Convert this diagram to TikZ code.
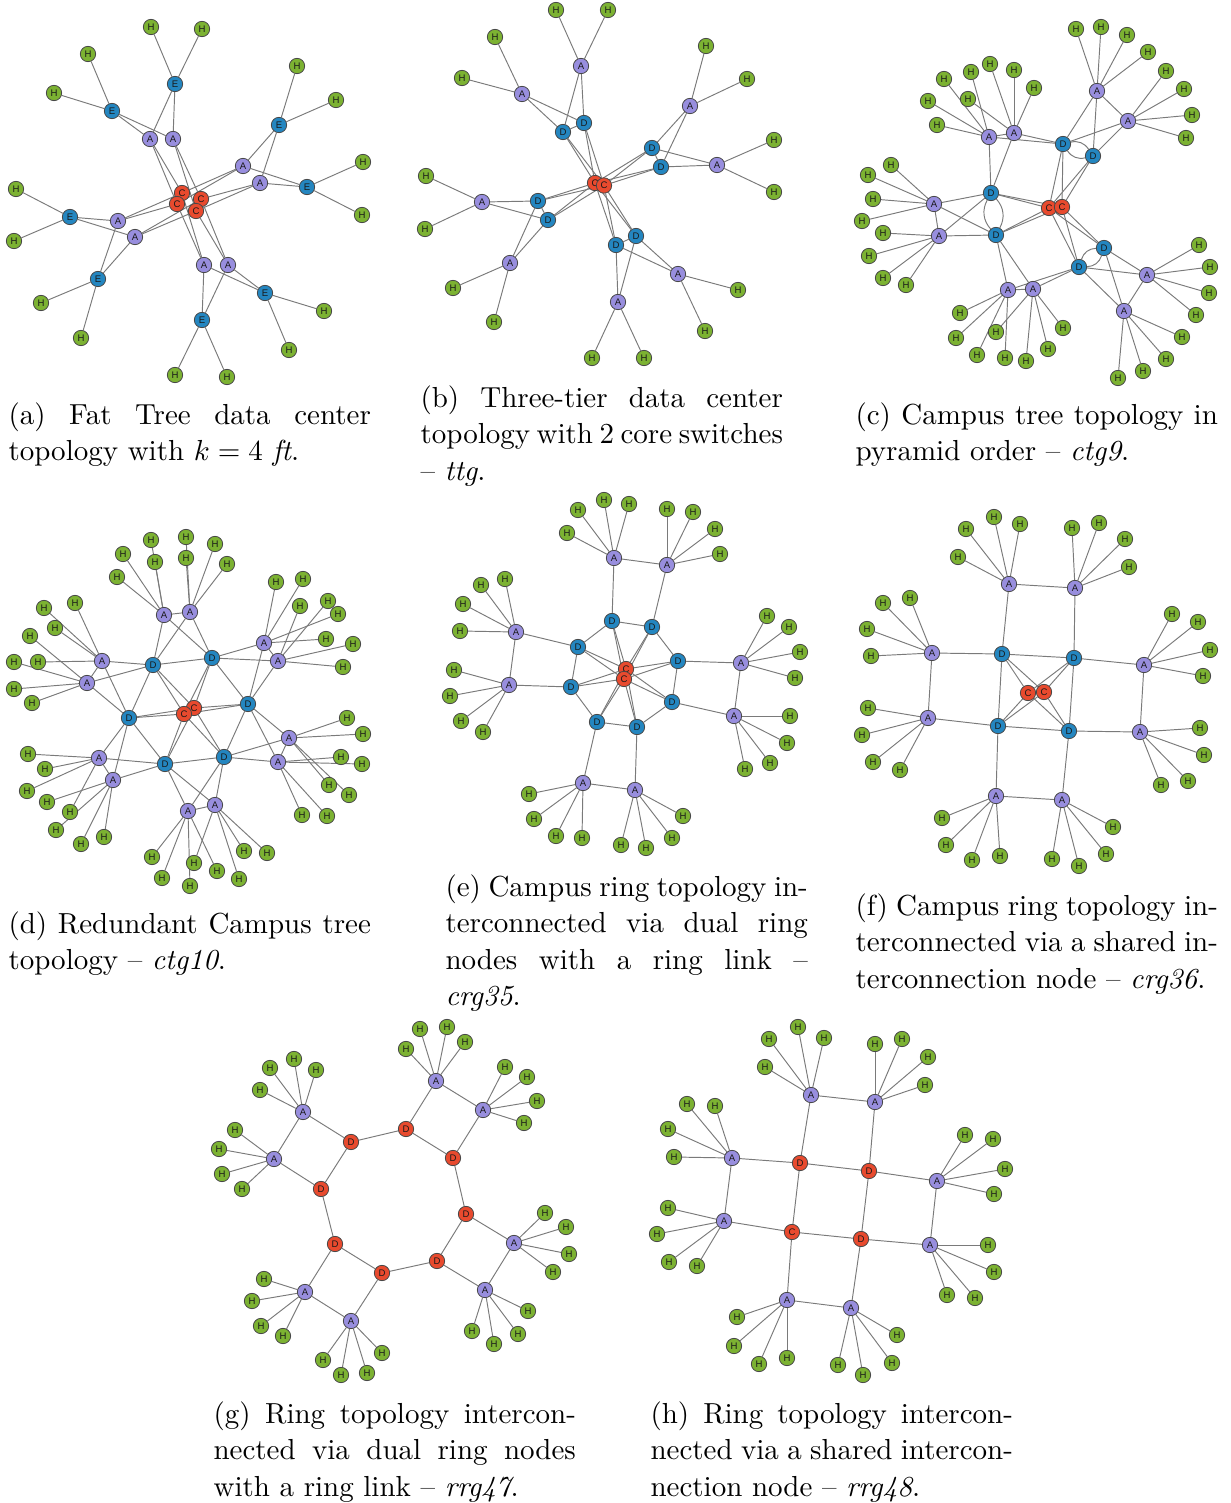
\documentclass[tikz,border=0pt]{standalone}
\usepackage{fontspec}
\newfontfamily\lblfont{Liberation Sans}
\definecolor{hostgreen}{RGB}{124,178,50}
\definecolor{accpurple}{RGB}{152,142,222}
\definecolor{distblue}{RGB}{36,134,192}
\definecolor{corered}{RGB}{232,74,46}
\pgfdeclarelayer{edges}
\pgfsetlayers{edges,main}
\tikzset{
  sw/.style={circle, draw=black!72, line width=0.27pt, minimum size=5.3pt, inner sep=0pt,
    font=\lblfont\fontsize{3.3}{3.5}\selectfont, text=black!90},
  hn/.style={sw, fill=hostgreen},
  an/.style={sw, fill=accpurple},
  dn/.style={sw, fill=distblue},
  cn/.style={sw, fill=corered},
  ed/.style={draw=black!52, line width=0.33pt},
  captext/.style={anchor=base west, inner sep=0pt, text width=125pt, align=justify,
    font=\fontsize{10}{12.6}\selectfont},
}
% every link is collected here and drawn once, under the nodes
\gdef\alledges{}
\newcommand\addedge[2]{%
  \ifx\alledges\empty\xdef\alledges{#1/#2}\else\xdef\alledges{\alledges,#1/#2}\fi}
% hosts hanging off one switch: parent, name prefix, list of x/y
\newcommand\hosts[3]{%
  \foreach \hx/\hy [count=\hi] in {#3}{%
    \node[hn] (#2-\hi) at (\hx,\hy) {H};
    \addedge{#1}{#2-\hi}%
  }}
% links between named switches
\newcommand\links[1]{\foreach \pa/\pb in {#1}{\addedge{\pa}{\pb}}}
\begin{document}
\begin{tikzpicture}[x=0.345pt,y=-0.345pt]
\useasboundingbox (0,0) rectangle (1231,1503);

%% (a) fat tree, k = 4
\foreach \n/\x/\y in {c1/182/193, c2/201/199, c3/177/204, c4/196/211}
  \node[cn] (a-\n) at (\x,\y) {C};
\foreach \n/\x/\y in {a1/150/139, a2/173/139, a3/243/166, a4/260/183, a5/118/221, a6/135/237, a7/204/265, a8/228/265}
  \node[an] (a-\n) at (\x,\y) {A};
\foreach \n/\x/\y in {e1/175/84, e2/112/111, e3/279/125, e4/307/187, e5/70/217, e6/98/279, e7/265/293, e8/202/320}
  \node[dn] (a-\n) at (\x,\y) {E};
\hosts{a-e1}{a-e1h}{151/27, 202/29}
\hosts{a-e2}{a-e2h}{88/54, 54/93}
\hosts{a-e3}{a-e3h}{297/66, 336/100}
\hosts{a-e4}{a-e4h}{363/162, 362/215}
\hosts{a-e5}{a-e5h}{16/189, 14/241}
\hosts{a-e6}{a-e6h}{41/303, 81/338}
\hosts{a-e7}{a-e7h}{324/311, 289/350}
\hosts{a-e8}{a-e8h}{175/375, 227/377}
\links{a-e1/a-a1, a-e1/a-a2, a-e2/a-a1, a-e2/a-a2, a-e3/a-a3, a-e3/a-a4, a-e4/a-a3, a-e4/a-a4,
  a-e5/a-a5, a-e5/a-a6, a-e6/a-a5, a-e6/a-a6, a-e7/a-a7, a-e7/a-a8, a-e8/a-a7, a-e8/a-a8,
  a-a1/a-c1, a-a1/a-c3, a-a2/a-c2, a-a2/a-c4, a-a3/a-c1, a-a3/a-c3, a-a4/a-c2, a-a4/a-c4,
  a-a5/a-c1, a-a5/a-c3, a-a6/a-c2, a-a6/a-c4, a-a7/a-c1, a-a7/a-c3, a-a8/a-c2, a-a8/a-c4}
\node[captext] (capa) at (8,424) {(a) Fat Tree data center topology with $k = 4$ \textit{ft}.};

%% (b) three-tier
\foreach \n/\x/\y in {c1/595/183, c2/604/185.5}
  \node[cn] (b-\n) at (\x,\y) {C};
\foreach \n/\x/\y in {a1/581/66, a2/522/94, a3/690/106, a4/717/165, a5/482/202, a6/510/263, a7/678/274, a8/618/302}
  \node[an] (b-\n) at (\x,\y) {A};
\foreach \n/\x/\y in {d1/563/132, d2/584/123, d3/652/148, d4/661/167, d5/538/201, d6/548/220, d7/616/245, d8/636/236}
  \node[dn] (b-\n) at (\x,\y) {D};
\hosts{b-a1}{b-a1h}{556/10, 608/10}
\hosts{b-a2}{b-a2h}{495/37, 462/78}
\hosts{b-a3}{b-a3h}{706/46, 747/79}
\hosts{b-a4}{b-a4h}{774/140, 774/192}
\hosts{b-a5}{b-a5h}{426/176, 425/229}
\hosts{b-a6}{b-a6h}{453/288, 494/322}
\hosts{b-a7}{b-a7h}{738/290, 705/331}
\hosts{b-a8}{b-a8h}{592/358, 644/358}
\links{b-a1/b-d1, b-a1/b-d2, b-a2/b-d1, b-a2/b-d2, b-d1/b-d2,
  b-a3/b-d3, b-a3/b-d4, b-a4/b-d3, b-a4/b-d4, b-d3/b-d4,
  b-a5/b-d5, b-a5/b-d6, b-a6/b-d5, b-a6/b-d6, b-d5/b-d6,
  b-a7/b-d7, b-a7/b-d8, b-a8/b-d7, b-a8/b-d8, b-d7/b-d8,
  b-d1/b-c1, b-d1/b-c2, b-d2/b-c1, b-d2/b-c2, b-d3/b-c1, b-d3/b-c2, b-d4/b-c1, b-d4/b-c2,
  b-d5/b-c1, b-d5/b-c2, b-d6/b-c1, b-d6/b-c2, b-d7/b-c1, b-d7/b-c2, b-d8/b-c1, b-d8/b-c2, b-c1/b-c2}
\node[captext] (capb) at (420,407) {(b) Three-tier data center topology with 2 core switches -- \textit{ttg}.};

%% (c) campus tree, pyramid order
\foreach \n/\x/\y in {c1/1049/208, c2/1062/207}
  \node[cn] (c-\n) at (\x,\y) {C};
\foreach \n/\x/\y in {d1/1063/144, d2/1093/156, d3/991/193, d4/996/235, d5/1104/248, d6/1079/267}
  \node[dn] (c-\n) at (\x,\y) {D};
\foreach \n/\x/\y in {a1/989/137, a2/1014/133, a3/1097/91, a4/1128/121, a5/934/204, a6/939/236, a7/1008/290, a8/1033/289, a9/1147/275, a10/1124/311}
  \node[an] (c-\n) at (\x,\y) {A};
\hosts{c-a1}{c-a1h}{937/125, 928/101, 944/79, 971/72}
\hosts{c-a2}{c-a2h}{968/99, 990/64, 1014/70, 1034/88}
\hosts{c-a3}{c-a3h}{1076/29, 1101/27, 1127/35, 1148/52}
\hosts{c-a4}{c-a4h}{1166/71, 1184/89, 1192/115, 1186/138}
\hosts{c-a5}{c-a5h}{891/165, 868/175, 873/199, 862/221}
\hosts{c-a6}{c-a6h}{883/233, 869/256, 883/278, 906/285}
\hosts{c-a7}{c-a7h}{960/313, 956/338, 977/355, 1005/358}
\hosts{c-a8}{c-a8h}{996/332, 1026/361, 1048/349, 1063/328}
\hosts{c-a9}{c-a9h}{1199/245, 1210/267, 1209/293, 1196/315}
\hosts{c-a10}{c-a10h}{1182/337, 1166/359, 1143/371, 1118/378}
\links{c-a1/c-a2, c-a3/c-a4, c-a5/c-a6, c-a7/c-a8, c-a9/c-a10,
  c-d1/c-a1, c-d1/c-a2, c-d1/c-a3, c-d1/c-a4, c-d2/c-a3, c-d2/c-a4,
  c-d3/c-a1, c-d3/c-a2, c-d3/c-a5, c-d3/c-a6, c-d4/c-a5, c-d4/c-a6, c-d4/c-a7, c-d4/c-a8,
  c-d5/c-a9, c-d5/c-a10, c-d6/c-a7, c-d6/c-a8, c-d6/c-a9, c-d6/c-a10,
  c-d1/c-c1, c-d1/c-c2, c-d2/c-c1, c-d2/c-c2, c-d3/c-c1, c-d3/c-c2,
  c-d4/c-c1, c-d4/c-c2, c-d5/c-c1, c-d5/c-c2, c-d6/c-c1, c-d6/c-c2, c-c1/c-c2}
\node[captext] (capc) at (855,424) {(c) Campus tree topology in pyramid order -- \textit{ctg9}.};

%% (d) redundant campus tree
\foreach \n/\x/\y in {c2/194/708, c1/184/714}
  \node[cn] (d-\n) at (\x,\y) {C};
\foreach \n/\x/\y in {d1/153/665, d2/212/658, d3/129/718, d4/248/704, d5/165/764, d6/224/757}
  \node[dn] (d-\n) at (\x,\y) {D};
\foreach \n/\x/\y in {a1/164/615, a2/190/612, a3/102/661, a4/87/683, a5/264/643, a6/278/661,
  a7/289/738, a8/278/762, a9/99/758, a10/113/780, a11/188/811, a12/215/805}
  \node[an] (d-\n) at (\x,\y) {A};
\hosts{d-a1}{d-a1h}{117/577, 123/554, 151/540, 155/562}
\hosts{d-a2}{d-a2h}{186/558, 186/537, 215/544, 227/564}
\hosts{d-a3}{d-a3h}{44/608, 75/603, 55/628, 38/662}
\hosts{d-a4}{d-a4h}{30/636, 14/662, 14/689, 32/703}
\hosts{d-a5}{d-a5h}{276/582, 303/579, 338/614, 326/639}
\hosts{d-a6}{d-a6h}{300/606, 328/601, 353/644, 343/667}
\hosts{d-a7}{d-a7h}{347/718, 363/734, 329/785, 349/795}
\hosts{d-a8}{d-a8h}{341/757, 362/764, 302/815, 327/816}
\hosts{d-a9}{d-a9h}{28/754, 45/769, 27/791, 70/812}
\hosts{d-a10}{d-a10h}{47/802, 56/830, 81/844, 104/837}
\hosts{d-a11}{d-a11h}{152/857, 162/878, 190/886, 217/871}
\hosts{d-a12}{d-a12h}{194/863, 239/879, 244/851, 267/853}
\links{d-a1/d-a2, d-a3/d-a4, d-a5/d-a6, d-a7/d-a8, d-a9/d-a10, d-a11/d-a12,
  d-d1/d-d2, d-d2/d-d4, d-d4/d-d6, d-d6/d-d5, d-d5/d-d3, d-d3/d-d1,
  d-a1/d-d1, d-a1/d-d2, d-a2/d-d1, d-a2/d-d2, d-a3/d-d1, d-a3/d-d3, d-a4/d-d1, d-a4/d-d3,
  d-a5/d-d2, d-a5/d-d4, d-a6/d-d2, d-a6/d-d4, d-a7/d-d4, d-a7/d-d6, d-a8/d-d4, d-a8/d-d6,
  d-a9/d-d3, d-a9/d-d5, d-a10/d-d3, d-a10/d-d5, d-a11/d-d5, d-a11/d-d6, d-a12/d-d5, d-a12/d-d6,
  d-d1/d-c1, d-d1/d-c2, d-d2/d-c1, d-d2/d-c2, d-d3/d-c1, d-d3/d-c2,
  d-d4/d-c1, d-d4/d-c2, d-d5/d-c1, d-d5/d-c2, d-d6/d-c1, d-d6/d-c2, d-c1/d-c2}
\node[captext] (capd) at (8,933) {(d) Redundant Campus tree topology -- \textit{ctg10}.};

%% (e) campus ring, dual ring nodes
\foreach \n/\x/\y in {c1/626/669, c2/624/679}
  \node[cn] (e-\n) at (\x,\y) {C};
\foreach \n/\x/\y in {d1/612/621, d2/652/627, d3/578/647, d4/678/661, d5/571/687, d6/672/702, d7/597/722, d8/637/727}
  \node[dn] (e-\n) at (\x,\y) {D};
\foreach \n/\x/\y in {a1/614/558, a2/667/565, a3/516/632, a4/509/685, a5/741/663, a6/734/716, a7/583/783, a8/635/790}
  \node[an] (e-\n) at (\x,\y) {A};
\hosts{e-a1}{e-a1h}{567/533, 578/510, 604/500, 629/504}
\hosts{e-a2}{e-a2h}{667/509, 693/512, 715/529, 720/554}
\hosts{e-a3}{e-a3h}{481/585, 505/579, 463/604, 460/631}
\hosts{e-a4}{e-a4h}{454/670, 450/696, 461/721, 483/732}
\hosts{e-a5}{e-a5h}{767/616, 789/627, 800/652, 795/678}
\hosts{e-a6}{e-a6h}{790/716, 787/743, 770/763, 745/769}
\hosts{e-a7}{e-a7h}{529/794, 534/819, 556/836, 582/838}
\hosts{e-a8}{e-a8h}{621/845, 646/848, 672/838, 683/816}
\links{e-a1/e-a2, e-a3/e-a4, e-a5/e-a6, e-a7/e-a8,
  e-d1/e-d2, e-d2/e-d4, e-d4/e-d6, e-d6/e-d8, e-d8/e-d7, e-d7/e-d5, e-d5/e-d3, e-d3/e-d1,
  e-a1/e-d1, e-a2/e-d2, e-a3/e-d3, e-a4/e-d5, e-a5/e-d4, e-a6/e-d6, e-a7/e-d7, e-a8/e-d8,
  e-d1/e-c1, e-d1/e-c2, e-d2/e-c1, e-d2/e-c2, e-d3/e-c1, e-d3/e-c2, e-d4/e-c1, e-d4/e-c2,
  e-d5/e-c1, e-d5/e-c2, e-d6/e-c1, e-d6/e-c2, e-d7/e-c1, e-d7/e-c2, e-d8/e-c1, e-d8/e-c2, e-c1/e-c2}
\node[captext] (cape) at (445,896) {(e) Campus ring topology interconnected via dual ring nodes with a ring link -- \textit{crg35}.};

%% (f) campus ring, shared interconnection node
\foreach \n/\x/\y in {c1/1028/693, c2/1044/692}
  \node[cn] (f-\n) at (\x,\y) {C};
\foreach \n/\x/\y in {d1/1002/654, d2/1074/658, d3/998/726, d4/1069/731}
  \node[dn] (f-\n) at (\x,\y) {D};
\foreach \n/\x/\y in {a1/1009/584, a2/1075/588, a3/932/653, a4/928/718, a5/1144/665, a6/1140/732, a7/996/796, a8/1062/800}
  \node[an] (f-\n) at (\x,\y) {A};
\hosts{f-a1}{f-a1h}{958/557, 966/529, 994/517, 1020/524}
\hosts{f-a2}{f-a2h}{1072/528, 1099/523, 1125/539, 1129/567}
\hosts{f-a3}{f-a3h}{883/603, 910/598, 867/629, 871/656}
\hosts{f-a4}{f-a4h}{868/708, 862/735, 873/762, 900/770}
\hosts{f-a5}{f-a5h}{1172/614, 1198/622, 1210/650, 1203/676}
\hosts{f-a6}{f-a6h}{1200/728, 1204/755, 1188/781, 1161/785}
\hosts{f-a7}{f-a7h}{942/818, 946/845, 972/860, 1000/856}
\hosts{f-a8}{f-a8h}{1052/859, 1079/866, 1106/854, 1113/827}
\links{f-a1/f-a2, f-a3/f-a4, f-a5/f-a6, f-a7/f-a8,
  f-d1/f-d2, f-d2/f-d4, f-d4/f-d3, f-d3/f-d1,
  f-a1/f-d1, f-a2/f-d2, f-a3/f-d1, f-a4/f-d3, f-a5/f-d2, f-a6/f-d4, f-a7/f-d3, f-a8/f-d4,
  f-d1/f-c1, f-d1/f-c2, f-d2/f-c1, f-d2/f-c2, f-d3/f-c1, f-d3/f-c2, f-d4/f-c1, f-d4/f-c2, f-c1/f-c2}
\node[captext] (capf) at (855,915) {(f) Campus ring topology interconnected via a shared interconnection node -- \textit{crg36}.};

%% (g) ring, dual ring nodes
\foreach \n/\x/\y in {d1/351/1142, d2/406/1129, d3/453/1158, d4/321/1189, d5/466/1214, d6/335/1244, d7/382/1273, d8/437/1261}
  \node[cn] (g-\n) at (\x,\y) {D};
\foreach \n/\x/\y in {a1/303/1112, a2/274/1159, a3/436/1081, a4/483/1110, a5/514/1243, a6/485/1290, a7/305/1292, a8/351/1321}
  \node[an] (g-\n) at (\x,\y) {A};
\hosts{g-a1}{g-a1h}{260/1090, 270/1068, 294/1059, 316/1070}
\hosts{g-a2}{g-a2h}{235/1130, 219/1149, 222/1174, 242/1189}
\hosts{g-a3}{g-a3h}{406/1049, 420/1029, 447/1027, 465/1042}
\hosts{g-a4}{g-a4h}{505/1067, 527/1077, 537/1101, 524/1123}
\hosts{g-a5}{g-a5h}{545/1213, 566/1227, 569/1254, 553/1272}
\hosts{g-a6}{g-a6h}{528/1311, 518/1334, 494/1344, 472/1331}
\hosts{g-a7}{g-a7h}{264/1279, 252/1301, 261/1326, 283/1336}
\hosts{g-a8}{g-a8h}{323/1360, 341/1375, 367/1373, 382/1353}
\links{g-a1/g-a2, g-a3/g-a4, g-a5/g-a6, g-a7/g-a8,
  g-d1/g-d2, g-d2/g-d3, g-d3/g-d5, g-d5/g-d8, g-d8/g-d7, g-d7/g-d6, g-d6/g-d4, g-d4/g-d1,
  g-a1/g-d1, g-a2/g-d4, g-a3/g-d2, g-a4/g-d3, g-a5/g-d5, g-a6/g-d8, g-a7/g-d6, g-a8/g-d7}
\node[captext] (capg) at (213,1423) {(g) Ring topology interconnected via dual ring nodes with a ring link -- \textit{rrg47}.};

%% (h) ring, shared interconnection node
\foreach \n/\x/\y in {d1/800/1163, d2/869/1171, d4/861/1239}
  \node[cn] (h-\n) at (\x,\y) {D};
\node[cn] (h-c) at (792,1232) {C};
\foreach \n/\x/\y in {a1/811/1095, a2/875/1102, a3/732/1158, a4/724/1221, a5/937/1181, a6/930/1245, a7/787/1300, a8/851/1308}
  \node[an] (h-\n) at (\x,\y) {A};
\hosts{h-a1}{h-a1h}{765/1067, 769/1039, 798/1027, 824/1038}
\hosts{h-a2}{h-a2h}{875/1044, 902/1039, 928/1057, 925/1085}
\hosts{h-a3}{h-a3h}{687/1104, 715/1106, 668/1129, 674/1157}
\hosts{h-a4}{h-a4h}{668/1208, 657/1234, 669/1262, 697/1266}
\hosts{h-a5}{h-a5h}{965/1135, 993/1139, 1005/1169, 994/1194}
\hosts{h-a6}{h-a6h}{988/1245, 994/1272, 975/1298, 947/1295}
\hosts{h-a7}{h-a7h}{737/1317, 734/1346, 759/1364, 787/1358}
\hosts{h-a8}{h-a8h}{838/1365, 863/1375, 892/1363, 897/1335}
\links{h-a1/h-a2, h-a3/h-a4, h-a5/h-a6, h-a7/h-a8,
  h-d1/h-d2, h-d2/h-d4, h-d4/h-c, h-c/h-d1,
  h-a1/h-d1, h-a2/h-d2, h-a3/h-d1, h-a4/h-c, h-a5/h-d2, h-a6/h-d4, h-a7/h-c, h-a8/h-d4}
\node[captext] (caph) at (650,1423) {(h) Ring topology interconnected via a shared interconnection node -- \textit{rrg48}.};

%% all links, beneath the nodes
\begin{pgfonlayer}{edges}
  \foreach \pa/\pb in \alledges {\draw[ed] (\pa) -- (\pb);}
  % doubled links between paired distribution switches in (c)
  \foreach \pa/\pb in {c-d1/c-d2, c-d3/c-d4, c-d5/c-d6}{
    \draw[ed] (\pa) to[bend left=35] (\pb);
    \draw[ed] (\pa) to[bend right=35] (\pb);}
\end{pgfonlayer}
\end{tikzpicture}
\end{document}
